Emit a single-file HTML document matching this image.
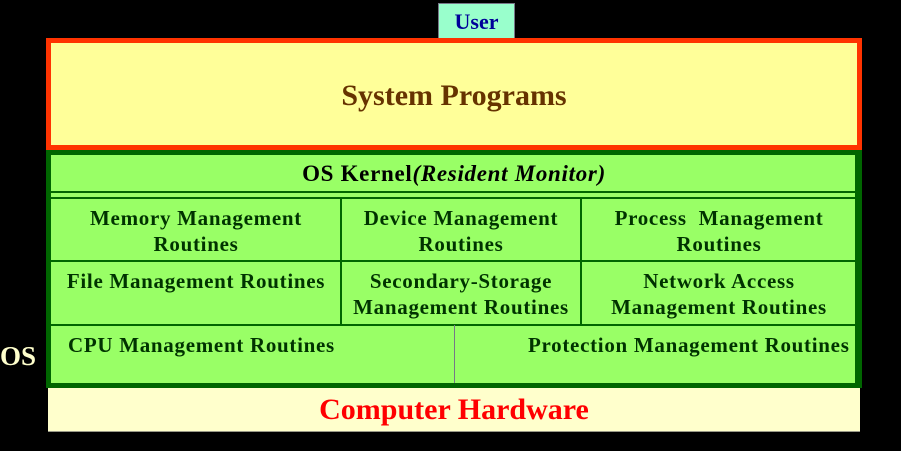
<!DOCTYPE html>
<html><head><style>
body{margin:0;width:901px;height:451px;background:#000;position:relative;overflow:hidden;font-family:"Liberation Serif",serif;font-weight:bold}
div{position:absolute;box-sizing:border-box}
.t{color:#003300;font-size:21px;letter-spacing:0.7px;text-align:center;line-height:26px}
.h{background:#006600}
.v{background:#006600;width:2px}
</style></head><body>
<div style="left:438px;top:3px;width:77px;height:36px;background:#99ffcc;border:1px solid #778;color:#000099;font-size:22px;text-align:center;line-height:36px">User</div>
<div style="left:46px;top:38px;width:816px;height:112px;background:#ffff99;border:5px solid #ff3300;color:#663300;font-size:30px;text-align:center;line-height:106px">System Programs</div>
<div style="left:46px;top:150px;width:816px;height:238px;background:#006600"></div>
<div style="left:51px;top:155px;width:806px;height:228px;background:#99ff66"></div>
<div class="h" style="left:51px;top:191px;width:806px;height:2px"></div>
<div class="h" style="left:51px;top:197px;width:806px;height:2px"></div>
<div class="h" style="left:51px;top:260px;width:806px;height:2px"></div>
<div class="h" style="left:51px;top:324px;width:806px;height:2px"></div>
<div class="v" style="left:340px;top:198px;height:127px"></div>
<div class="v" style="left:580px;top:198px;height:127px"></div>
<div style="left:454px;top:325px;width:1px;height:58px;background:#778"></div>
<div style="left:855px;top:155px;width:2px;height:228px;background:#006600"></div>
<div class="t" style="left:51px;top:161px;width:806px;color:#000;font-size:23px;letter-spacing:0.7px">OS Kernel<i>(Resident Monitor)</i></div>
<div class="t" style="left:51px;top:205px;width:290px">Memory Management<br>Routines</div>
<div class="t" style="left:341px;top:205px;width:240px">Device Management<br>Routines</div>
<div class="t" style="left:581px;top:205px;width:276px">Process&nbsp; Management<br>Routines</div>
<div class="t" style="left:51px;top:268px;width:290px">File Management Routines</div>
<div class="t" style="left:341px;top:268px;width:240px">Secondary-Storage<br>Management Routines</div>
<div class="t" style="left:581px;top:268px;width:276px">Network Access<br>Management Routines</div>
<div class="t" style="left:68px;top:332px;text-align:left;white-space:nowrap">CPU Management Routines</div>
<div class="t" style="left:528px;top:332px;text-align:left;white-space:nowrap">Protection Management Routines</div>
<div style="left:48px;top:388px;width:812px;height:44px;background:#ffffcc;border-bottom:1px solid #998;color:#ff0000;font-size:30px;text-align:center;line-height:44px">Computer Hardware</div>
<div style="left:0;top:340px;color:#ffffcc;font-size:27px;line-height:32px">OS</div>
</body></html>
